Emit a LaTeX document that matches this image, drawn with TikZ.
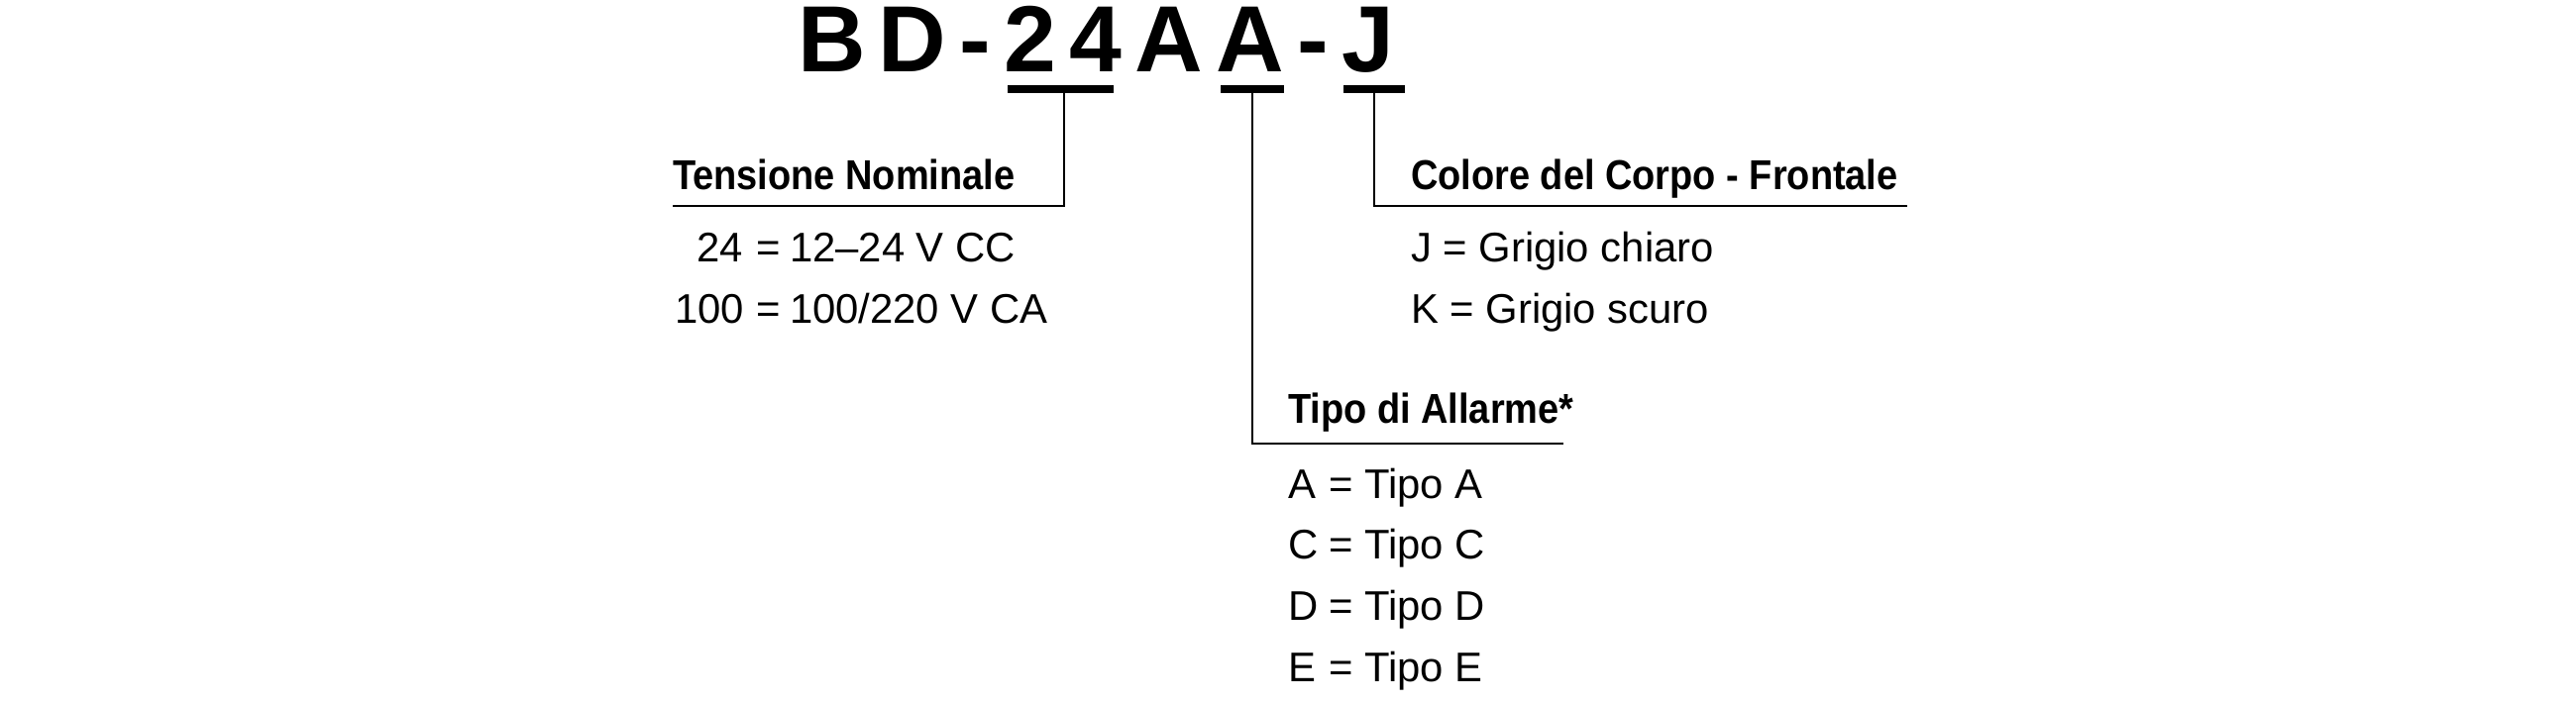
\documentclass[tikz,border=0pt]{standalone}
\usepackage{fontspec}
\setmainfont{Liberation Sans}
\newfontfamily\titlefont{Liberation Sans}[LetterSpace=14]
\newfontfamily\headfont{Liberation Sans}[FakeStretch=0.90]
\begin{document}
\begin{tikzpicture}[x=0.01cm,y=-0.01cm,
  titletxt/.style={anchor=base west, inner sep=0pt, outer sep=0pt,
    font=\titlefont\bfseries\fontsize{27}{30}\selectfont},
  head/.style={anchor=base west, inner sep=0pt, outer sep=0pt,
    font=\headfont\bfseries\fontsize{12}{14}\selectfont},
  txt/.style={anchor=base west, inner sep=0pt, outer sep=0pt,
    font=\fontsize{11.9}{14}\selectfont},
  codebar/.style={fill=black, draw=none, inner sep=0pt, outer sep=0pt,
    minimum height=0.08cm},
  conn/.style={draw=black, line width=0.55pt}]
\useasboundingbox (0,0) rectangle (2600,710);
% title
\node[titletxt] (title) at (805,73) {BD-24AA-J};
% underline bars
\node[codebar, minimum width=1.07cm] (bar24) at (1070.5,90) {};
\node[codebar, minimum width=0.63cm] (barA) at (1264,90) {};
\node[codebar, minimum width=0.62cm] (barJ) at (1387,90) {};
% headings
\node[head] (hTN) at (679,192) {Tensione Nominale};
\node[head] (hTA) at (1300,428) {Tipo di Allarme*};
\node[head] (hCC) at (1424,192) {Colore del Corpo - Frontale};
% rule ends
\coordinate (tnL) at (679,208);
\coordinate (taR) at (1578,448);
\coordinate (ccR) at (1925,208);
% connectors
\draw[conn] ([xshift=0.035cm]bar24.south) |- (tnL);
\draw[conn] (barA.south) |- (taR);
\draw[conn] (barJ.south) |- (ccR);
% Tensione Nominale items
\node[txt] (c24) at (703,265) {24};
\node[txt] (e24) at (763,265) {=};
\node[txt] (v24) at (797,265) {12–24 V CC};
\node[txt] (c100) at (681,327) {100};
\node[txt] (e100) at (763,327) {=};
\node[txt] (v100) at (797,327) {100/220 V CA};
% Colore items
\node[txt] (jJ) at (1424,265) {J = Grigio chiaro};
\node[txt] (jK) at (1424,327) {K = Grigio scuro};
% Tipo di Allarme items
\node[txt] (cA) at (1300,504) {A};
\node[txt] (vA) at (1341,504) {= Tipo A};
\node[txt] (cC) at (1300,565) {C};
\node[txt] (vC) at (1341,565) {= Tipo C};
\node[txt] (cD) at (1300,627) {D};
\node[txt] (vD) at (1341,627) {= Tipo D};
\node[txt] (cE) at (1300,689) {E};
\node[txt] (vE) at (1341,689) {= Tipo E};
\end{tikzpicture}
\end{document}
